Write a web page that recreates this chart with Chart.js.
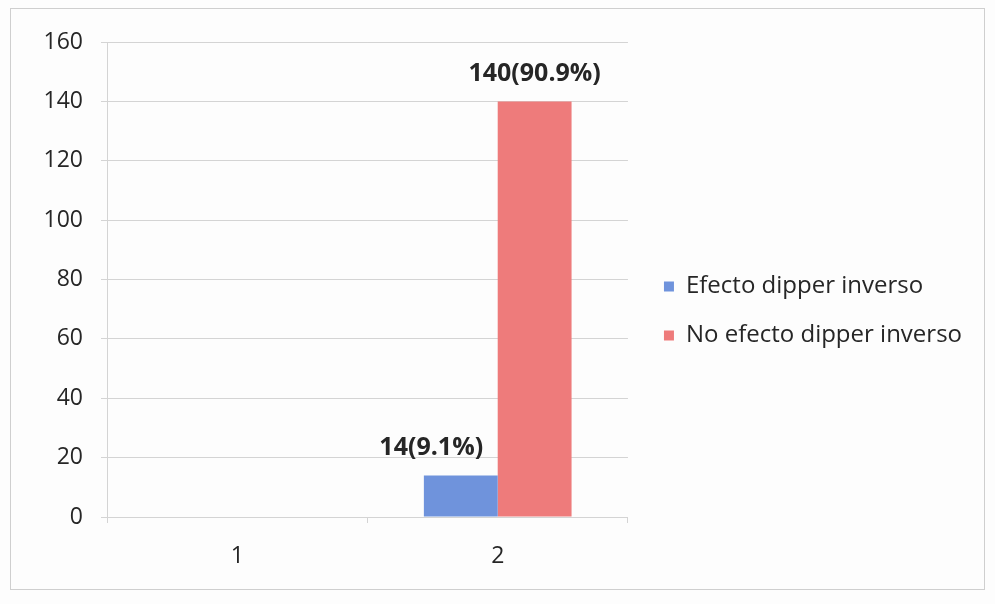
<!DOCTYPE html>
<html>
<head>
<meta charset="utf-8">
<script src="https://cdn.jsdelivr.net/npm/chart.js@4"></script>
<style>
  html, body { margin: 0; padding: 0; background: #fff; }
  #wrap { position: relative; width: 995px; height: 604px; background: #fdfdfd; }
  #frame { position: absolute; left: 10px; top: 8px; width: 973px; height: 580px; border: 1px solid #cfcfcf; }
  #chart { position: absolute; left: 0; top: 0; }
</style>
</head>
<body>
<div id="wrap">
  <div id="frame"></div>
  <canvas id="chart" width="995" height="604"></canvas>
</div>
<script>
// valores
const categories = ['1', '2'];
const seriesNames = ['Efecto dipper inverso', 'No efecto dipper inverso'];
const dipperInverso = [null, 14];
const noDipperInverso = [null, 140];
const barLabels = [
    [null, '14(9.1%)'],
    [null, '140(90.9%)']
];
const yTicks = [0, 20, 40, 60, 80, 100, 120, 140, 160];

const FONT = "'Open Sans', 'Liberation Sans', Arial, sans-serif";
const GRID = '#d4d4d4';

// etiquetas encima de las barras
const barLabelPlugin = {
    id: 'barLabels',
    afterDatasetsDraw(chart, args, opts) {
        const ctx = chart.ctx;
        ctx.save();
        ctx.font = 'bold 25px ' + FONT;
        ctx.fillStyle = '#262626';
        ctx.textAlign = 'center';
        ctx.textBaseline = 'alphabetic';
        chart.data.datasets.forEach((ds, i) => {
            const meta = chart.getDatasetMeta(i);
            meta.data.forEach((bar, j) => {
                const txt = barLabels[i][j];
                if (!txt) return;
                const shift = (opts.shift || [])[i] || 0;
                ctx.fillText(txt, bar.x + shift * bar.width, bar.y - 20);
            });
        });
        ctx.restore();
    }
};

new Chart(document.getElementById('chart').getContext('2d'), {
    type: 'bar',
    data: {
        labels: categories,
        datasets: [
            { label: seriesNames[0], data: dipperInverso, backgroundColor: '#6f93dc', categoryPercentage: 0.567, barPercentage: 1 },
            { label: seriesNames[1], data: noDipperInverso, backgroundColor: '#ee7b7b', categoryPercentage: 0.567, barPercentage: 1 },
        ]
    },
    plugins: [barLabelPlugin],
    options: {
        responsive: false,
        animation: false,
        layout: { padding: { top: 42, bottom: 24, left: 0, right: 23 } },
        plugins: {
            tooltip: { enabled: false },
            barLabels: { shift: [-0.4, 0] },
            legend: {
                position: 'right',
                align: 'center',
                maxWidth: 400,
                labels: {
                    font: { family: FONT, size: 24 },
                    color: '#262626',
                    boxWidth: 10,
                    boxHeight: 10,
                    padding: 25
                }
            }
        },
        scales: {
            x: {
                grid: { drawOnChartArea: false, drawTicks: true, tickLength: 6, color: GRID, offset: true },
                border: { display: true, color: GRID },
                ticks: { font: { family: FONT, size: 23 }, color: '#262626', padding: 20 },
                afterFit(scale) { scale.height = 63; }
            },
            y: {
                min: 0,
                max: 160,
                afterBuildTicks(scale) { scale.ticks = yTicks.map(v => ({ value: v })); },
                grid: { color: GRID, tickLength: 6 },
                border: { display: true, color: GRID },
                ticks: { font: { family: FONT, size: 23 }, color: '#262626', padding: 18 },
                afterFit(scale) { scale.width = 107; }
            },
            gap: {
                position: 'right',
                display: true,
                grid: { display: false },
                border: { display: false },
                ticks: { display: false },
                afterFit(scale) { scale.width = 11; }
            }
        }
    }
});
</script>
</body>
</html>
